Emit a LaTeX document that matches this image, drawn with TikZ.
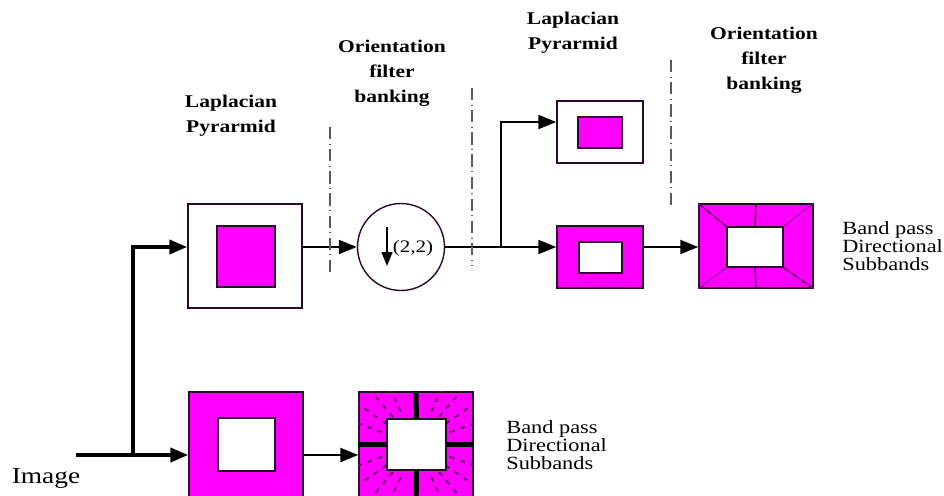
\documentclass[tikz,border=0pt]{standalone}
\usepackage{fontspec}
\setmainfont{Liberation Serif}[FakeStretch=1.2]
\usepackage{tikz}
\usetikzlibrary{arrows.meta}
\tikzset{frame/.style={draw=edgedark,line width=.8pt,inner sep=0pt},
holl/.style={frame,fill=white},
pink/.style={frame,fill=boxpink},
feed/.style={-{Triangle[length=3.6mm,width=2.8mm]},line width=1.2pt},
trunk/.style={feed,line width=2.2pt},
split/.style={splitgray,line width=.9pt,dash pattern=on 7pt off 2.5pt on .6pt off 2.5pt},
tick/.style={purpledash,line width=1.1pt},
bar/.style={black,line width=2.8pt},
diag/.style={boxpink!55!black,line width=.5pt},
head/.style={font=\bfseries\fontsize{10.2}{14.2}\selectfont,align=center},
note/.style={font=\fontsize{10.6}{10.4}\selectfont,align=left,anchor=west,inner sep=0pt}}
\definecolor{boxpink}{HTML}{FF00FF}
\definecolor{edgedark}{HTML}{2A0A2A}
\definecolor{splitgray}{HTML}{5A5A5A}
\definecolor{purpledash}{HTML}{6A0A6A}

\begin{document}
\begin{tikzpicture}[x=0.02cm,y=-0.02cm]
\clip (0,0) rectangle (944,495);
% first stage
\node[holl,minimum width=2.28cm,minimum height=2.08cm] (lapA) at (245,256) {};
\node[pink,minimum width=1.16cm,minimum height=1.22cm] (lapAi) at (246,256.5) {};
\node[pink,minimum width=2.28cm,minimum height=2.52cm] (lapB) at (246,455) {};
\node[holl,minimum width=1.14cm,minimum height=1.06cm] (lapBi) at (246.5,444.5) {};
\node[pink,minimum width=2.28cm,minimum height=2.52cm] (dirC) at (416,455) {};
\begin{scope}
\clip (dirC.north west) rectangle (dirC.south east);
\foreach \a in {20,35,50,65,115,130,145,160,200,215,230,245,295,310,325,340}
\foreach \r in {36,47,58,69}
\draw[tick] (416,444.5) ++(\a:\r) -- ++(\a:5);
\end{scope}
\node[holl,minimum width=1.18cm,minimum height=1.02cm] (dirCi) at (416.5,444.5) {};
\draw[bar] (dirC.north) -- (dirCi.north);
\draw[bar] (dirCi.south) -- (dirC.south);
\draw[bar] (dirC.west |- dirCi.west) -- (dirCi.west);
\draw[bar] (dirCi.east) -- (dirC.east |- dirCi.east);
% downsampling
\node[draw=edgedark,line width=.8pt,circle,minimum size=1.74cm,inner sep=0pt] (down) at (401,247) {};
\node[font=\fontsize{10}{12}\selectfont] (fac) at (413,248) {(2,2)};
\draw[-{Triangle[length=2.8mm,width=2.2mm]},line width=.7pt] (387,227) -- (387,266);
% second stage
\node[holl,minimum width=1.72cm,minimum height=1.24cm] (lapD) at (600,132) {};
\node[pink,minimum width=.88cm,minimum height=.62cm] (lapDi) at (600,132.5) {};
\node[pink,minimum width=1.72cm,minimum height=1.24cm] (lapE) at (600,257) {};
\node[holl,minimum width=.86cm,minimum height=.62cm] (lapEi) at (600.5,257.5) {};
\node[pink,minimum width=2.28cm,minimum height=1.68cm] (dirF) at (756,246) {};
\node[holl,minimum width=1.12cm,minimum height=.8cm] (dirFi) at (755,247) {};
\draw[diag] (dirF.north east) -- (dirFi.north east);
\draw[diag] (dirF.south west) -- (dirFi.south west);
\draw[diag] (dirF.north west) -- (dirFi.north west);
\draw[diag] (dirF.south east) -- (dirFi.south east);
\draw[purpledash,line width=1pt,dashed] (dirF.north west) -- (dirFi.north west);
\draw[purpledash,line width=1pt,dashed] (dirFi.south east) -- (dirF.south east);
\draw[edgedark,line width=.8pt] (dirF.north) -- (dirFi.north);
\draw[edgedark,line width=.8pt] (dirFi.south) -- (dirF.south);
% connectors
\coordinate (src) at (76,455);
\coordinate (fork) at (133,455);
\coordinate (split) at (501,247);
\draw[trunk] (src) -- (lapB.west);
\draw[trunk] (fork) |- (lapA.west |- down.west);
\draw[feed] (lapA.east |- down.west) -- (down.west);
\draw[feed] (lapB.east) -- (dirC.west);
\draw[feed] (down.east) -- (lapE.west |- down.east);
\draw[feed] (split) |- ([yshift=.2cm]lapD.west);
\draw[feed] (lapE.east |- down.east) -- (dirF.west |- down.east);
% stage separators
\draw[split] (330,127) -- (330,272);
\draw[split] (472,88) -- (472,266);
\draw[split] (671,60) -- (671,205);
% labels
\node[font=\fontsize{13}{15}\selectfont] (img) at (46,478) {Image};
\node[head] (hdA) at (231,116) {Laplacian\\Pyrarmid};
\node[head] (hdB) at (392,73) {Orientation\\filter\\banking};
\node[head] (hdC) at (573,33) {Laplacian\\Pyrarmid};
\node[head] (hdD) at (764,60) {Orientation\\filter\\banking};
\node[note] (bandA) at (506,445) {Band pass\\Directional\\Subbands};
\node[note] (bandB) at (842,246) {Band pass\\Directional\\Subbands};
\end{tikzpicture}
\end{document}
